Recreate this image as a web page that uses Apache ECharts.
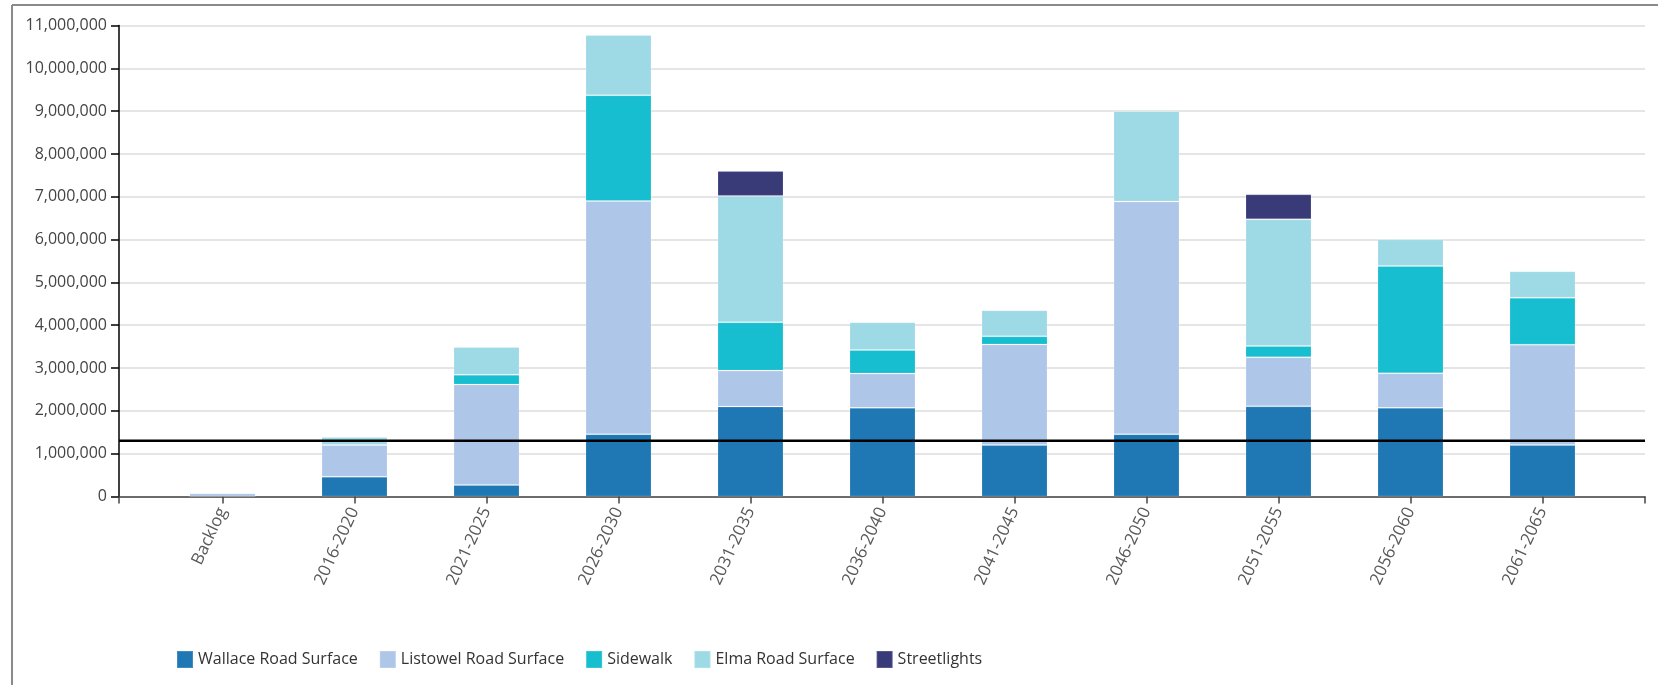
<!DOCTYPE html>
<html>
<head>
<meta charset="utf-8">
<title>Capital Needs by Period</title>
<script src="https://cdn.jsdelivr.net/npm/echarts@6/dist/echarts.min.js"></script>
<style>
  html, body { margin: 0; padding: 0; background: #fff; }
  #chart { width: 1658px; height: 685px; }
</style>
</head>
<body>
<div id="chart"></div>
<script>
// Periods along the x axis
const categories = ['Backlog', '2016-2020', '2021-2025', '2026-2030', '2031-2035', '2036-2040',
  '2041-2045', '2046-2050', '2051-2055', '2056-2060', '2061-2065'];

// Cost per asset group and period ($)
const wallace      = [0, 463000, 270000, 1455000, 2100000, 2070000, 1200000, 1455000, 2105000, 2070000, 1200000];
const listowel     = [75000, 742000, 2345000, 5445000, 840000, 800000, 2350000, 5435000, 1145000, 807000, 2346000];
const sidewalk     = [0, 0, 227000, 2470000, 1130000, 550000, 190000, 0, 265000, 2506000, 1097000];
const elma         = [0, 187000, 648000, 1410000, 2950000, 650000, 610000, 2110000, 2958000, 623000, 617000];
const streetlights = [0, 0, 0, 0, 580000, 0, 0, 0, 584000, 0, 20000];

// Annual funding level drawn as a horizontal reference line ($)
const fundingLevel = 1300000;

// Value-axis range
const yMin = 0;
const yMax = 11000000;
const yStep = 1000000;

const seriesDefs = [
  { name: 'Wallace Road Surface', data: wallace, color: '#1f77b4' },
  { name: 'Listowel Road Surface', data: listowel, color: '#aec7e8' },
  { name: 'Sidewalk', data: sidewalk, color: '#17becf' },
  { name: 'Elma Road Surface', data: elma, color: '#9edae5' },
  { name: 'Streetlights', data: streetlights, color: '#393b79' }
];

const FONT = "'Open Sans', 'Noto Sans', sans-serif";
const TOP = 25.5;
const BOTTOM = 188.5;

const chart = echarts.init(document.getElementById('chart'), null, { renderer: 'canvas' });

const barSeries = seriesDefs.map(s => ({
  name: s.name,
  type: 'bar',
  stack: 'total',
  xAxisIndex: 1,
  yAxisIndex: 1,
  barWidth: '50%',
  data: s.data,
  itemStyle: { color: s.color, borderColor: 'rgba(255,255,255,0.15)', borderWidth: 1 },
  z: 2,
  emphasis: { disabled: true }
}));

const option = {
  animation: false,
  backgroundColor: '#fff',
  textStyle: { fontFamily: FONT },
  grid: [
    // outer plot frame: axes, gridlines and the funding line span this
    { left: 119, right: 13, top: TOP, bottom: BOTTOM, containLabel: false },
    // bars sit inside with padding at both ends
    { left: 156.5, right: 49.5, top: TOP, bottom: BOTTOM, containLabel: false }
  ],
  xAxis: [
    {
      type: 'value', gridIndex: 0, min: 0, max: 1, interval: 1,
      axisLine: { show: true, lineStyle: { color: '#444', width: 1.5 } },
      axisTick: { show: true, length: 7, lineStyle: { color: '#444', width: 1.5 } },
      axisLabel: { show: false },
      splitLine: { show: false }
    },
    {
      type: 'category', gridIndex: 1, data: categories,
      boundaryGap: true,
      axisLine: { show: false },
      axisTick: { show: true, alignWithLabel: true, length: 7, lineStyle: { color: '#444', width: 1.5 } },
      axisLabel: {
        rotate: 65, margin: 12, fontSize: 17, color: '#595959', fontFamily: FONT, interval: 0
      },
      splitLine: { show: false }
    }
  ],
  yAxis: [
    {
      type: 'value', gridIndex: 0, min: yMin, max: yMax, interval: yStep,
      axisLine: { show: true, lineStyle: { color: '#000', width: 1.5 } },
      axisTick: { show: true, length: 8, lineStyle: { color: '#000', width: 1.5 } },
      axisLabel: {
        margin: 12, fontSize: 16, color: '#444', fontFamily: FONT,
        formatter: v => v.toLocaleString('en-US')
      },
      splitLine: { show: true, lineStyle: { color: '#dcdcdc', width: 1.5 } }
    },
    {
      type: 'value', gridIndex: 1, min: yMin, max: yMax, interval: yStep,
      axisLine: { show: false }, axisTick: { show: false },
      axisLabel: { show: false }, splitLine: { show: false }
    }
  ],
  legend: {
    left: 176, top: 650, padding: 0,
    icon: 'rect', itemWidth: 16, itemHeight: 17, itemGap: 21,
    textStyle: { fontSize: 16, color: '#333', fontFamily: FONT },
    data: seriesDefs.map(s => s.name),
    selectedMode: false
  },
  graphic: [
    // container frame
    { type: 'line', shape: { x1: 12, y1: 5, x2: 1658, y2: 5 }, style: { stroke: '#8a8a8a', lineWidth: 2 }, silent: true },
    { type: 'line', shape: { x1: 12, y1: 5, x2: 12, y2: 685 }, style: { stroke: '#8a8a8a', lineWidth: 2 }, silent: true }
  ],
  series: barSeries.concat([
    {
      name: 'Funding',
      type: 'line',
      xAxisIndex: 0,
      yAxisIndex: 0,
      data: [[0, fundingLevel], [1, fundingLevel]],
      symbol: 'none',
      lineStyle: { color: '#000', width: 2.5 },
      z: 5,
      silent: true,
      emphasis: { disabled: true }
    }
  ])
};

chart.setOption(option);
</script>
</body>
</html>
